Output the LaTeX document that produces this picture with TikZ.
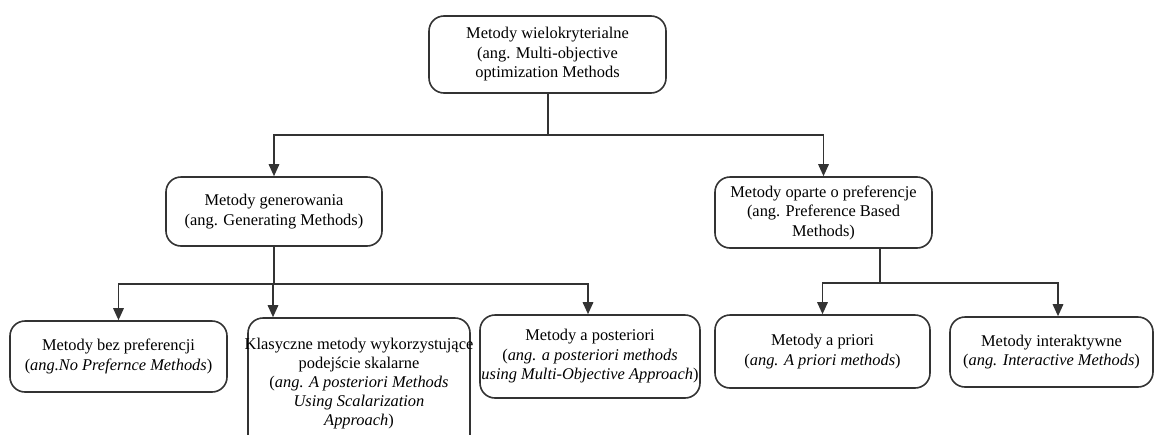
\documentclass[tikz,border=0pt]{standalone}
\usepackage{fontspec}
\setmainfont{Liberation Serif}
\usetikzlibrary{arrows.meta}
\definecolor{linegray}{HTML}{333333}
\begin{document}
\begin{tikzpicture}[x=1pt,y=-1pt,
  box/.style={draw=linegray, line width=1.6pt, rounded corners=15pt, align=center,
              inner sep=0pt, text=black, font=\fontsize{16.4}{19.5}\selectfont},
  txt/.style={align=center, inner sep=0pt, text=black, font=\fontsize{16.4}{19}\selectfont},
  link/.style={draw=linegray, line width=1.6pt},
  arr/.style={link, -{Triangle[length=12pt,width=10.5pt]}}]
\useasboundingbox (0,0) rectangle (1155,434);
\clip (0,0) rectangle (1155,434);

% root
\node[box, minimum width=237pt, minimum height=77pt] (root) at (547.5,54.5)
  {Metody wielokryterialne\\(ang. Multi-objective\\optimization Methods};

% second level
\node[box, minimum width=216pt, minimum height=69pt] (gen) at (274,211.5)
  {Metody generowania\\(ang. Generating Methods)};
\node[box, minimum width=217pt, minimum height=71pt] (pref) at (823.5,212.5)
  {Metody oparte o preferencje\\(ang. Preference Based\\Methods)};

% third level
\node[box, minimum width=217pt, minimum height=71pt] (nopref) at (118.5,356.5)
  {Metody bez preferencji\\(\textit{ang.No Prefernce Methods})};
\node[box, minimum width=222pt, minimum height=137pt] (scal) at (359,386.5) {};
\node[txt] (scaltxt) at (359,384)
  {Klasyczne metody wykorzystujące\\podejście skalarne\\(\textit{ang. A posteriori Methods}\\\textit{Using Scalarization}\\\textit{Approach})};
\node[box, minimum width=220pt, minimum height=83pt] (post) at (590,356.5)
  {Metody a posteriori\\(\textit{ang. a posteriori methods}\\\textit{using Multi-Objective Approach})};
\node[box, minimum width=215pt, minimum height=73pt] (prior) at (822.5,351.5)
  {Metody a priori\\(\textit{ang. A priori methods})};
\node[box, minimum width=203pt, minimum height=70pt] (inter) at (1051.5,352)
  {Metody interaktywne\\(\textit{ang. Interactive Methods})};

% junction points of the buses
\coordinate (j1) at (548,135);
\coordinate (j2) at (274,284);
\coordinate (j3) at (880,283);

% root -> second level
\draw[link] (root.south -| j1) -- (j1);
\draw[arr] (j1) -| (gen.north);
\draw[arr] (j1) -| (pref.north);

% generating methods -> children
\draw[link] (gen.south -| j2) -- (j2);
\draw[arr] (j2) -| (nopref.north);
\draw[arr] ([xshift=-1pt]j2) -- ([xshift=-1pt]j2 |- scal.north);
\draw[arr] (j2) -| ([xshift=-2pt]post.north);

% preference based methods -> children
\draw[link] (pref.south -| j3) -- (j3);
\draw[arr] (j3) -| (prior.north);
\draw[arr] (j3) -| ([xshift=6.5pt]inter.north);
\end{tikzpicture}
\end{document}
